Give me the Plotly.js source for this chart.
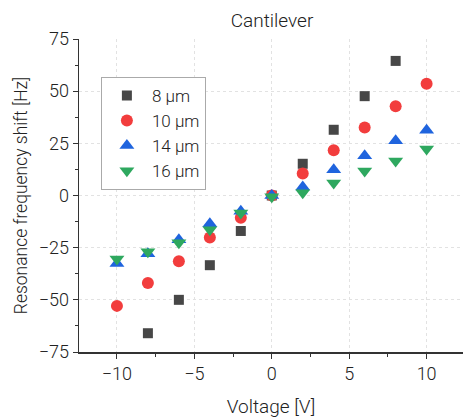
<!DOCTYPE html>
<html>
<head>
<meta charset="utf-8">
<script src="https://cdn.plot.ly/plotly-3.0.1.min.js"></script>
<style>body{margin:0;padding:0;background:#fff}#chart{width:463px;height:418px}</style>
</head>
<body>
<div id="chart"></div>
<script>
const voltage = [-10, -8, -6, -4, -2, 0, 2, 4, 6, 8, 10];
const voltage8 = [-8, -6, -4, -2, 0, 2, 4, 6, 8];
const shift8 = [-66, -50, -33.4, -17, 0, 15.2, 31.5, 47.6, 64.5];
const shift10 = [-52.9, -41.9, -31.5, -20.1, -10.7, 0, 10.5, 21.7, 32.6, 42.8, 53.6];
const shift14 = [-32.6, -27.9, -21.2, -13.5, -7.6, 0, 4.1, 12.4, 19, 26.2, 31.3];
const shift16 = [-30.4, -26.9, -22.6, -16.4, -8.4, -0.6, 1.3, 6, 11.7, 16.5, 22.3];
const seriesNames = ['8 \u03bcm', '10 \u03bcm', '14 \u03bcm', '16 \u03bcm'];

const FONT = 'Roboto, "Liberation Sans", sans-serif';
const TXT = '#222';
const traces = [
  {x: voltage8, y: shift8, name: seriesNames[0], mode: 'markers', type: 'scatter',
   marker: {symbol: 'square', size: 10, color: '#474747'}},
  {x: voltage, y: shift10, name: seriesNames[1], mode: 'markers', type: 'scatter',
   marker: {symbol: 'circle', size: 12, color: '#f23d3d'}},
  {x: voltage, y: shift14, name: seriesNames[2], mode: 'markers', type: 'scatter',
   marker: {symbol: 'triangle-up', size: 13, color: '#1f64de'}},
  {x: voltage, y: shift16, name: seriesNames[3], mode: 'markers', type: 'scatter',
   marker: {symbol: 'triangle-down', size: 13, color: '#2ea85f'}}
];

const layout = {
  width: 463, height: 418,
  margin: {l: 79, r: 0, t: 39, b: 66},
  paper_bgcolor: '#fff', plot_bgcolor: '#fff',
  font: {family: FONT, size: 18, color: TXT, weight: 300},
  title: {text: 'Cantilever', x: 0.5875, xanchor: 'center', y: 0.952, yanchor: 'middle',
          font: {family: FONT, size: 19, color: TXT, weight: 300}},
  showlegend: true,
  legend: {x: 0.057, y: 0.879, xanchor: 'left', yanchor: 'top',
           bgcolor: '#fff', bordercolor: '#aaa', borderwidth: 1,
           font: {family: FONT, size: 17, color: TXT, weight: 300},
           itemwidth: 40, tracegroupgap: 0},
  xaxis: {
    range: [-12.45, 12.35], tickvals: [-10, -5, 0, 5, 10],
    ticktext: ['\u221210', '\u22125', '0', '5', '10'],
    ticks: 'outside', ticklen: 5, tickwidth: 1, tickcolor: '#333',
    minor: {dtick: 2.5, tick0: 0, ticks: 'outside', ticklen: 3, tickcolor: '#333', showgrid: false},
    showline: true, linecolor: '#333', linewidth: 1.5,
    showgrid: true, gridcolor: '#e2e2e2', griddash: 'dot', gridwidth: 1,
    zeroline: false, tickfont: {family: FONT, size: 18, color: TXT, weight: 300},
    title: {text: 'Voltage [V]', standoff: 16, font: {family: FONT, size: 19, color: TXT, weight: 300}}
  },
  yaxis: {
    range: [-75, 75], tickvals: [-75, -50, -25, 0, 25, 50, 75],
    ticktext: ['\u221275', '\u221250', '\u221225', '0', '25', '50', '75'],
    ticks: 'outside', ticklen: 5, tickwidth: 1, tickcolor: '#333',
    minor: {dtick: 12.5, tick0: 0, ticks: 'outside', ticklen: 3, tickcolor: '#333', showgrid: false},
    showline: true, linecolor: '#333', linewidth: 1.5,
    showgrid: true, gridcolor: '#e2e2e2', griddash: 'dot', gridwidth: 1,
    zeroline: false, tickfont: {family: FONT, size: 18, color: TXT, weight: 300},
    title: {text: 'Resonance frequency shift [Hz]', standoff: 6, font: {family: FONT, size: 17.5, color: TXT, weight: 300}}
  }
};

Plotly.newPlot('chart', traces, layout, {displayModeBar: false, staticPlot: true});
</script>
</body>
</html>
